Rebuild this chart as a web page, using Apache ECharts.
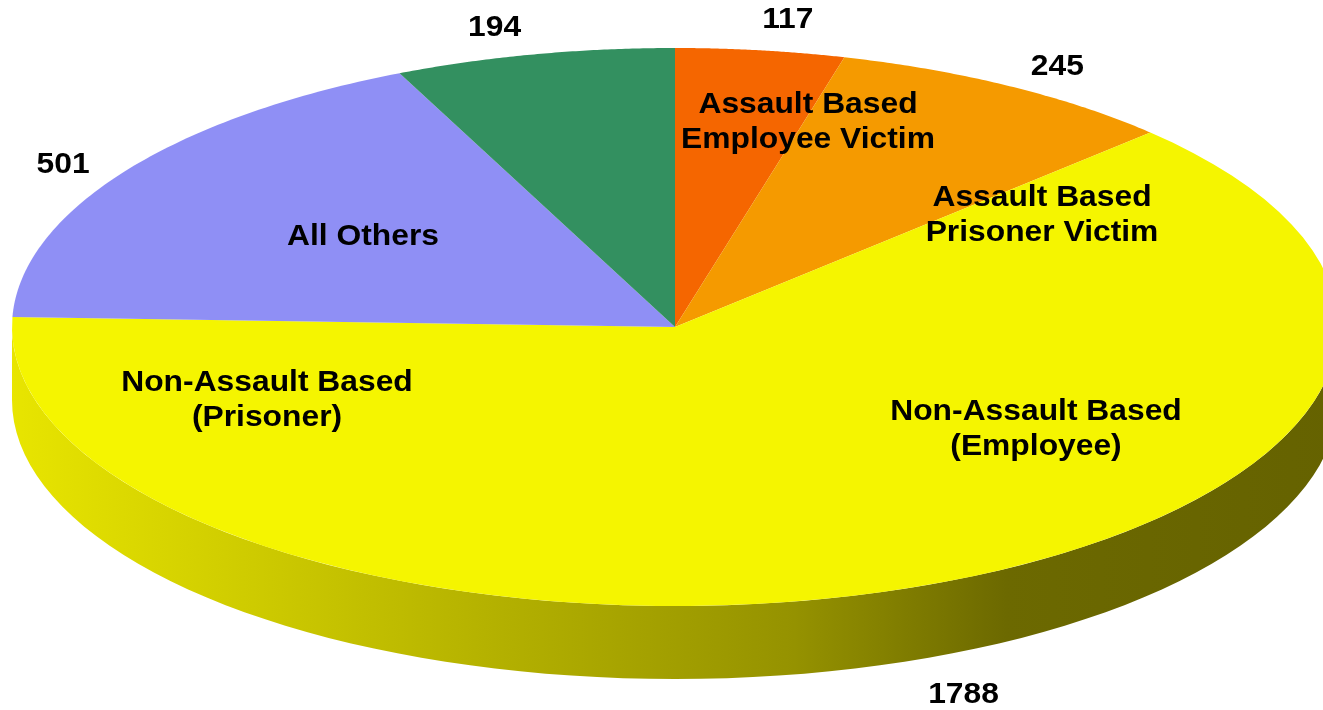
<!DOCTYPE html>
<html>
<head>
<meta charset="utf-8">
<script src="https://cdn.jsdelivr.net/npm/echarts@6/dist/echarts.min.js"></script>
<style>
  html, body { margin: 0; padding: 0; background: #fff; }
  #pie-chart { width: 1323px; height: 710px; }
</style>
</head>
<body>
<div id="pie-chart"></div>
<script>
// slices, clockwise from 12 o'clock
const categories = ['Assault Based Employee Victim', 'Assault Based Prisoner Victim', 'Non-Assault Based', 'All Others', 'Other'];
const values = [117, 245, 1788, 501, 194];
const insideLabels = ['Assault Based\nEmployee Victim', 'Assault Based\nPrisoner Victim', 'Non-Assault Based\n(Prisoner)', 'Non-Assault Based\n(Employee)', 'All Others'];

const colors = ['#f56600', '#f59a00', '#f5f500', '#8f8ff5', '#339060'];
const font = 'bold 30px "Liberation Sans", Arial, sans-serif';
const textStretch = 1.06;
// small nudges for the value labels, px
const labelNudge = [[18, 0], [11, 7], [24, 6], [0, 10], [-24, 3]];

// ellipse geometry
const cx = 675, cy = 327, rx = 663, ry = 279, depth = 73;

let total = 0;
const seriesData = values.map((v, i) => {
  const item = { value: [v, total], name: categories[i] };
  total += v;
  return item;
});

const sideFill = {
  type: 'linear', global: true,
  x: cx - rx, y: 0, x2: cx + rx, y2: 0,
  colorStops: [
    { offset: 0, color: '#e8e500' },
    { offset: 0.37, color: '#b3b000' },
    { offset: 0.59, color: '#959200' },
    { offset: 0.75, color: '#6c6900' },
    { offset: 1, color: '#656200' }
  ]
};

function pt(a, k, dy) {
  return [cx + rx * k * Math.sin(a), cy - ry * k * Math.cos(a) + (dy || 0)];
}

let pieChart = echarts.init(document.getElementById('pie-chart'));

let pieOption = {
  backgroundColor: '#fff',
  animation: false,
  series: [
    {
      type: 'custom',
      coordinateSystem: 'none',
      data: seriesData,
      renderItem: function (params, api) {
        const idx = params.dataIndex;
        const v = api.value(0), start = api.value(1);
        const a0 = start / total * 2 * Math.PI;
        const a1 = (start + v) / total * 2 * Math.PI;
        const children = [];
        // front rim
        const s0 = Math.max(a0, Math.PI / 2), s1 = Math.min(a1, 3 * Math.PI / 2);
        if (s1 > s0) {
          const top = [], bot = [];
          for (let i = 0; i <= 80; i++) {
            const a = s0 + (s1 - s0) * i / 80;
            top.push(pt(a, 1));
            bot.push(pt(a, 1, depth));
          }
          children.push({
            type: 'polygon',
            shape: { points: top.concat(bot.reverse()) },
            style: { fill: sideFill }
          });
        }
        // top face
        const pts = [[cx, cy]];
        for (let i = 0; i <= 80; i++) {
          pts.push(pt(a0 + (a1 - a0) * i / 80, 1));
        }
        children.push({
          type: 'polygon',
          shape: { points: pts },
          style: { fill: colors[idx] }
        });
        // value label
        const mid = (a0 + a1) / 2;
        const lp = pt(mid, 1.11, Math.cos(mid) < 0 ? depth : 0);
        children.push({
          type: 'text',
          x: lp[0] + labelNudge[idx][0], y: lp[1] + labelNudge[idx][1],
          scaleX: textStretch,
          z2: 10,
          style: { text: String(v), fill: '#000', font: font, align: 'center', verticalAlign: 'middle' }
        });
        return { type: 'group', children: children };
      }
    }
  ],
  graphic: [
    [808, 122], [1042, 215], [267, 400], [1036, 429], [363, 237]
  ].map((p, i) => ({
    type: 'text',
    x: p[0], y: p[1],
    scaleX: textStretch,
    z: 100,
    style: {
      text: insideLabels[i],
      fill: '#000',
      font: font,
      lineHeight: 35,
      align: 'center',
      verticalAlign: 'middle'
    }
  }))
};

pieChart.setOption(pieOption);
</script>
</body>
</html>
